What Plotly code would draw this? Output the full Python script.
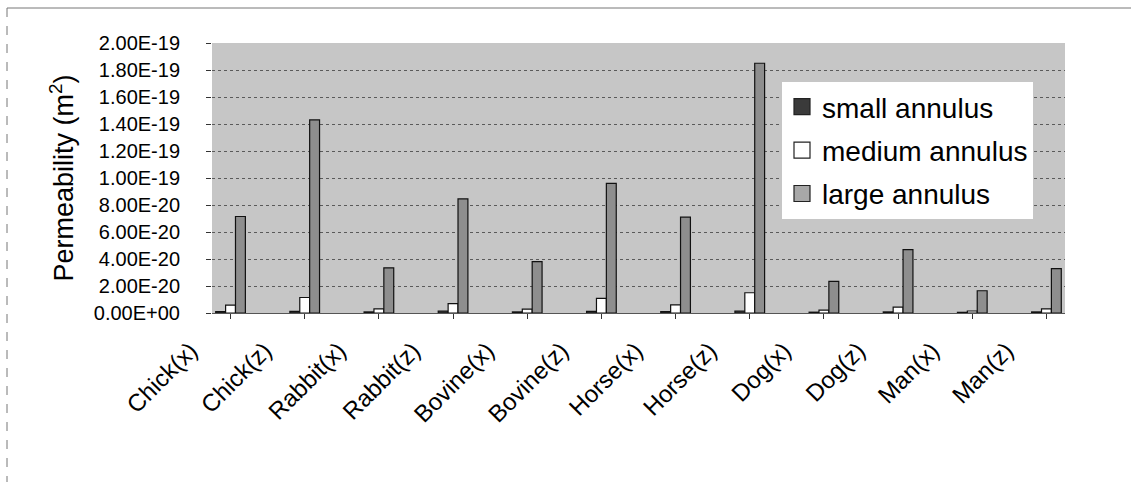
import plotly.graph_objects as go

categories = ["Chick(x)", "Chick(z)", "Rabbit(x)", "Rabbit(z)", "Bovine(x)", "Bovine(z)",
              "Horse(x)", "Horse(z)", "Dog(x)", "Dog(z)", "Man(x)", "Man(z)"]
small_annulus = [0.10e-20, 0.12e-20, 0.08e-20, 0.15e-20, 0.08e-20, 0.12e-20,
                 0.10e-20, 0.15e-20, 0.06e-20, 0.08e-20, 0.05e-20, 0.08e-20]
medium_annulus = [0.58e-20, 1.15e-20, 0.30e-20, 0.70e-20, 0.28e-20, 1.08e-20,
                  0.60e-20, 1.50e-20, 0.22e-20, 0.44e-20, 0.15e-20, 0.30e-20]
large_annulus = [7.15e-20, 14.3e-20, 3.35e-20, 8.45e-20, 3.80e-20, 9.60e-20,
                 7.10e-20, 18.5e-20, 2.35e-20, 4.70e-20, 1.65e-20, 3.28e-20]
series_names = ["small annulus", "medium annulus", "large annulus"]
y_tickvals = [0, 2e-20, 4e-20, 6e-20, 8e-20, 1e-19, 1.2e-19, 1.4e-19, 1.6e-19, 1.8e-19, 2e-19]
y_ticktext = ["0.00E+00", "2.00E-20", "4.00E-20", "6.00E-20", "8.00E-20", "1.00E-19",
              "1.20E-19", "1.40E-19", "1.60E-19", "1.80E-19", "2.00E-19"]

W, H = 1131, 482
L, R, T, B = 212, 66, 43, 169
pw, ph = W - L - R, H - T - B

fills = ["#3a3a3a", "#ffffff", "#8e8e8e"]
legend_fills = ["#3a3a3a", "#ffffff", "#a8a8a8"]
fig = go.Figure()
for i, (name, vals) in enumerate(zip(series_names, [small_annulus, medium_annulus, large_annulus])):
    fig.add_trace(go.Bar(
        x=categories, y=vals, name=name, legendgroup=name, showlegend=False,
        marker=dict(color=fills[i], line=dict(color="#111111", width=1.2)),
    ))
for i, name in enumerate(series_names):
    fig.add_trace(go.Scatter(
        x=[None], y=[None], mode="markers", name=name, legendgroup=name,
        marker=dict(symbol="square", size=18, color=legend_fills[i],
                    line=dict(color="#222222", width=1.2)),
    ))

font = "Liberation Sans, Arial, sans-serif"
fig.update_layout(
    width=W, height=H,
    margin=dict(l=L, r=R, t=T, b=B, autoexpand=False),
    paper_bgcolor="white",
    plot_bgcolor="#c6c6c6",
    barmode="group",
    bargap=0.6,
    bargroupgap=0.0,
    font=dict(family=font, color="black"),
    showlegend=True,
    legend=dict(
        x=(782 - L) / pw, y=(H - B - 82) / ph, xanchor="left", yanchor="top",
        bgcolor="white", borderwidth=0,
        font=dict(size=28, family=font, color="black"),
        traceorder="grouped", tracegroupgap=4,
        itemwidth=30, itemsizing="trace",
    ),
    xaxis=dict(
        type="category",
        range=[-0.25, 11.25],
        tickangle=-45,
        tickfont=dict(size=24, family=font),
        ticks="outside", ticklen=5, tickcolor="#333333",
        showgrid=False, showline=True, linecolor="#555555", linewidth=1,
        ticklabelstandoff=8, ticklabelshift=-40,
    ),
    yaxis=dict(
        range=[0, 2e-19],
        tickvals=y_tickvals, ticktext=y_ticktext,
        tickfont=dict(size=20, family=font),
        ticks="outside", ticklen=5, tickcolor="#333333",
        showgrid=True, gridcolor="#5a5a5a", gridwidth=1, griddash="dot",
        showline=False, zeroline=False,
        ticklabelstandoff=22,
        title=dict(text="Permeability (m<sup>2</sup>)", font=dict(size=27, family=font), standoff=12),
    ),
    shapes=[
        dict(type="line", xref="paper", yref="paper",
             x0=(7 - L) / pw, x1=(1131 - L) / pw, y0=(H - B - 8) / ph, y1=(H - B - 8) / ph,
             line=dict(color="#777777", width=1)),
        dict(type="line", xref="paper", yref="paper",
             x0=(7 - L) / pw, x1=(7 - L) / pw, y0=(H - B - 8) / ph, y1=(H - B - 482) / ph,
             line=dict(color="#777777", width=1, dash="dash")),
    ],
)
fig.write_html("out.html")
